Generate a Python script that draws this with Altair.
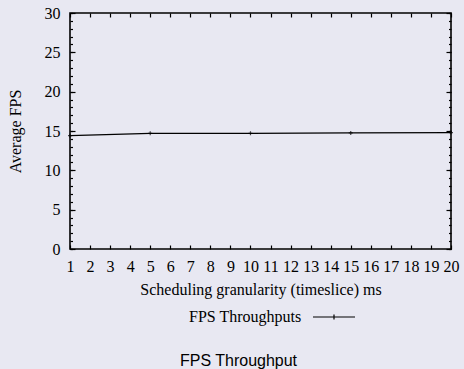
import altair as alt
import pandas as pd

# Average frame rate for each scheduling timeslice (ms)
timeslice = [1, 5, 10, 15, 20]
avg_fps = [14.4, 14.7, 14.7, 14.75, 14.8]
series = ["FPS Throughputs"] * len(timeslice)

x_ticks = list(range(1, 21))
y_major = [0, 5, 10, 15, 20, 25, 30]
y_minor = list(range(0, 31))

W, H = 381, 236
SERIF = "Liberation Serif"
FS = 16
BG = "#e8e8f2"

df = pd.DataFrame({"timeslice": timeslice, "fps": avg_fps, "series": series})

xs = alt.Scale(domain=[1, 20], nice=False, zero=False)
ys = alt.Scale(domain=[0, 30], nice=False)


def tick_axis(orient, offset, values, size):
    # label-free axis used only for its inward-pointing ticks
    return alt.Axis(
        orient=orient, offset=offset, values=values, tickSize=size,
        labels=False, domain=False, grid=False, title=None,
        tickColor="black", tickWidth=1.2,
    )


def enc(xaxis, yaxis):
    return dict(
        x=alt.X("timeslice:Q", scale=xs, axis=xaxis),
        y=alt.Y("fps:Q", scale=ys, axis=yaxis),
    )


base = alt.Chart(df)

line = base.mark_line(strokeWidth=1.2).encode(
    **enc(
        alt.Axis(
            orient="bottom", values=x_ticks, ticks=False, tickSize=0, domain=False,
            grid=False, labelPadding=9, labelFont=SERIF, labelFontSize=FS,
            labelColor="black", labelOverlap=False, labelFlush=False,
            title="Scheduling granularity (timeslice) ms",
            titleFont=SERIF, titleFontSize=FS, titleFontWeight="normal",
            titleColor="black", titlePadding=7,
        ),
        alt.Axis(
            orient="left", values=y_major, ticks=False, tickSize=0, domain=False,
            grid=False, labelPadding=10, labelFont=SERIF, labelFontSize=FS,
            labelColor="black", labelOverlap=False, labelFlush=False,
            title="Average FPS", titleFont=SERIF,
            titleFontSize=FS, titleFontWeight="normal", titleColor="black",
            titlePadding=21,
        ),
    ),
    color=alt.Color(
        "series:N",
        scale=alt.Scale(range=["black"]),
        legend=alt.Legend(
            orient="none", legendX=119, legendY=282,
            title="FPS Throughputs", titleOrient="left", titleFont=SERIF,
            titleFontSize=FS, titleFontWeight="normal", titleColor="black",
            titleAnchor="middle", titleBaseline="top",
            titlePadding=10, labelExpr="''",
            symbolType="M-1,0L1,0M0,-0.12L0,0.12", symbolSize=1764,
            symbolStrokeWidth=1.2,
        ),
    ),
)

markers = base.mark_point(
    shape="M-1,0L1,0M0,-1L0,1", size=16, filled=False, color="black", strokeWidth=1.2
).encode(**enc(tick_axis("top", -H, x_ticks, 4), tick_axis("right", -W, y_major, 5)))

ghost = dict(opacity=0)
top_ticks = base.mark_line(**ghost).encode(
    **enc(tick_axis("bottom", -H, x_ticks, 4), tick_axis("left", -W, y_major, 5))
)
left_minor = base.mark_line(**ghost).encode(
    **enc(None, tick_axis("right", -W, y_minor, 2.5))
)
right_minor = base.mark_line(**ghost).encode(
    **enc(None, tick_axis("left", -W, y_minor, 2.5))
)

chart = (
    alt.layer(line, markers, top_ticks, left_minor, right_minor)
    .resolve_scale(x="shared", y="shared")
    .resolve_axis(x="independent", y="independent")
    .properties(
        width=W, height=H,
        autosize=alt.AutoSizeParams(type="none"),
        padding={"left": 70, "top": 13, "right": 13, "bottom": 120},
        background=BG,
        title=alt.TitleParams(
            "FPS Throughput", orient="bottom", anchor="middle", frame="group",
            font="Liberation Sans", fontSize=16, fontWeight="normal",
            color="black", offset=28, dx=-22,
        ),
    )
    .configure_view(stroke="black", strokeWidth=1.6, fill=BG)
)

chart.save("out.html", embed_options={"renderer": "svg", "actions": False})
